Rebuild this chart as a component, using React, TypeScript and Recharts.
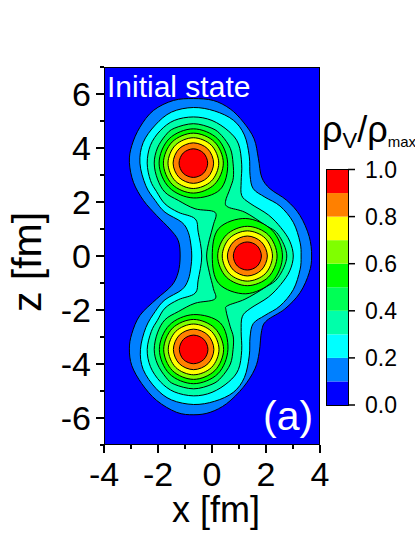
import React from 'react';
import { ScatterChart, Scatter, XAxis, YAxis, BarChart, Bar } from 'recharts';

type P = [number, number];

const bandColors = ['#0000ff', '#0080ff', '#00ffff', '#00ffaa', '#00ff55', '#00ff00', '#80ff00', '#ffff00', '#ff8000', '#ff0000'];
const bandSizes = [0.1, 0.1, 0.1, 0.1, 0.1, 0.1, 0.1, 0.1, 0.1, 0.1];
const xTicks = [-4, -3, -2, -1, 0, 1, 2, 3, 4];
const zTicks = [-7, -6, -5, -4, -3, -2, -1, 0, 1, 2, 3, 4, 5, 6, 7];
const barTicks = [0, 0.2, 0.4, 0.6, 0.8, 1];

const frame: P[] = [[-4, 7], [4, 7], [4, -7], [-4, -7]];

const level1: P[] = [[-.69, 5.83], [.05, 5.76], [.67, 5.45], [1.16, 4.96], [1.56, 4.34], [1.72, 3.6], [1.84, 2.92], [2.15, 2.49], [2.77, 2.06], [3.26, 1.5], [3.60, .72], [3.69, 0], [3.60, -.62], [3.26, -1.36], [2.70, -1.96], [2.03, -2.39], [1.84, -2.76], [1.75, -3.56], [1.59, -4.18], [1.16, -4.86], [.54, -5.47], [-.07, -5.79], [-.67, -5.88], [-1.31, -5.79], [-2.05, -5.35], [-2.6, -4.73], [-2.97, -4.06], [-3.06, -3.44], [-2.97, -2.88], [-2.67, -2.2], [-2.05, -1.59], [-1.49, -1.09], [-1.25, -.6], [-1.18, 0], [-1.25, .57], [-1.56, 1.0], [-2.05, 1.5], [-2.54, 2.06], [-2.91, 2.73], [-3.06, 3.47], [-2.97, 4.09], [-2.67, 4.77], [-2.17, 5.39], [-1.43, 5.76]];

const level2: P[] = [[-.69, 5.50], [.1, 5.37], [.79, 5.03], [1.2, 4.48], [1.38, 3.7], [1.41, 2.98], [1.53, 2.49], [1.96, 2.18], [2.52, 1.85], [3.01, 1.25], [3.26, .51], [3.30, 0], [3.26, -.51], [3.01, -1.25], [2.52, -1.85], [1.96, -2.2], [1.53, -2.5], [1.41, -3.0], [1.38, -3.7], [1.2, -4.5], [.79, -5.05], [.1, -5.38], [-.68, -5.50], [-1.5, -5.33], [-2.08, -4.9], [-2.55, -4.2], [-2.65, -3.46], [-2.45, -2.65], [-2.1, -2.05], [-1.74, -1.62], [-1.12, -1.25], [-.88, -.88], [-.78, -.4], [-.75, 0], [-.78, .4], [-.88, .88], [-1.12, 1.25], [-1.74, 1.62], [-2.1, 2.05], [-2.45, 2.6], [-2.67, 3.44], [-2.55, 4.2], [-2.1, 4.85], [-1.5, 5.33]];

const level3: P[] = [[-.69, 5.15], [.0, 5.02], [.62, 4.62], [.98, 4.15], [1.10, 3.4], [1.08, 2.75], [1.10, 2.24], [1.41, 1.95], [2.09, 1.52], [2.55, 1.05], [2.88, .55], [3.01, 0], [2.88, -.55], [2.55, -1.05], [2.09, -1.52], [1.41, -1.95], [1.12, -2.25], [1.08, -2.8], [1.10, -3.5], [.98, -4.2], [.62, -4.66], [.0, -5.05], [-.68, -5.18], [-1.4, -5.03], [-1.91, -4.66], [-2.28, -4.1], [-2.40, -3.46], [-2.25, -2.8], [-2.02, -2.38], [-1.74, -1.93], [-1.25, -1.62], [-.63, -1.38], [-.51, -.88], [-.38, 0], [-.51, .88], [-.63, 1.38], [-1.25, 1.62], [-1.74, 1.93], [-2.05, 2.38], [-2.28, 2.8], [-2.40, 3.44], [-2.28, 4.1], [-1.92, 4.64], [-1.4, 5.02]];

const level4: P[] = [[-.69, 4.90], [.0, 4.73], [.36, 4.46], [.68, 3.98], [.78, 3.44], [.79, 2.9], [.67, 2.5], [.50, 2.02], [.60, 1.81], [1.22, 1.62], [1.96, 1.15], [2.45, .80], [2.77, 0], [2.45, -.80], [1.96, -1.17], [1.22, -1.60], [.58, -1.84], [.52, -2.02], [.67, -2.6], [.79, -3.0], [.78, -3.46], [.68, -4.0], [.35, -4.49], [.0, -4.75], [-.68, -4.92], [-1.4, -4.75], [-1.71, -4.49], [-2.02, -4.0], [-2.14, -3.46], [-2.02, -2.85], [-1.74, -2.36], [-1.25, -2.06], [-.63, -1.75], [.10, -1.60], [.05, -1.2], [-.10, -.6], [-.20, 0], [-.10, .6], [.05, 1.15], [.11, 1.62], [-.63, 1.75], [-1.25, 2.06], [-1.74, 2.36], [-2.02, 2.85], [-2.14, 3.44], [-2.02, 4.0], [-1.72, 4.47], [-1.4, 4.73]];

const level5Top: P[] = [[.58, 3.44], [.21, 4.34], [-.69, 4.71], [-1.59, 4.34], [-1.96, 3.44], [-1.59, 2.54], [-.69, 2.15], [.3, 2.46]];
const level5Mid: P[] = [[2.61, 0], [2.23, .95], [1.25, 1.39], [.25, 1.02], [.01, 0], [.25, -1.02], [1.25, -1.40], [2.23, -.95]];
const level5Low: P[] = [[.59, -3.46], [.31, -2.48], [-.68, -2.17], [-1.58, -2.56], [-1.95, -3.46], [-1.58, -4.36], [-.68, -4.73], [.22, -4.36]];

const level6Top: P[] = [[.42, 3.44], [.095, 4.225], [-.69, 4.55], [-1.475, 4.225], [-1.80, 3.44], [-1.475, 2.655], [-.69, 2.33], [.095, 2.655]];
const level6Mid: P[] = [[2.41, 0], [2.09, .78], [1.31, 1.10], [.53, .78], [.21, 0], [.53, -.78], [1.31, -1.10], [2.09, -.78]];
const level6Low: P[] = [[.43, -3.46], [.105, -2.675], [-.68, -2.35], [-1.465, -2.675], [-1.79, -3.46], [-1.465, -4.245], [-.68, -4.57], [.105, -4.245]];

const level7Top: P[] = [[.25, 3.44], [-.025, 4.105], [-.69, 4.38], [-1.355, 4.105], [-1.63, 3.44], [-1.355, 2.775], [-.69, 2.50], [-.025, 2.775]];
const level7Mid: P[] = [[2.24, 0], [1.97, .66], [1.31, .93], [.65, .66], [.38, 0], [.65, -.66], [1.31, -.93], [1.97, -.66]];
const level7Low: P[] = [[.26, -3.46], [-.015, -2.795], [-.68, -2.52], [-1.345, -2.795], [-1.62, -3.46], [-1.345, -4.125], [-.68, -4.40], [-.015, -4.125]];

const level8Top: P[] = [[.06, 3.44], [-.16, 3.97], [-.69, 4.19], [-1.22, 3.97], [-1.44, 3.44], [-1.22, 2.91], [-.69, 2.69], [-.16, 2.91]];
const level8Mid: P[] = [[2.05, 0], [1.83, .52], [1.31, .74], [.79, .52], [.57, 0], [.79, -.52], [1.31, -.74], [1.83, -.52]];
const level8Low: P[] = [[.07, -3.46], [-.15, -2.93], [-.68, -2.71], [-1.21, -2.93], [-1.43, -3.46], [-1.21, -3.99], [-.68, -4.21], [-.15, -3.99]];

const level9Top: P[] = [[-.16, 3.44], [-.315, 3.815], [-.69, 3.97], [-1.065, 3.815], [-1.22, 3.44], [-1.065, 3.065], [-.69, 2.91], [-.315, 3.065]];
const level9Mid: P[] = [[1.83, 0], [1.68, .37], [1.31, .52], [.94, .37], [.79, 0], [.94, -.37], [1.31, -.52], [1.68, -.37]];
const level9Low: P[] = [[-.15, -3.46], [-.305, -3.085], [-.68, -2.93], [-1.055, -3.085], [-1.21, -3.46], [-1.055, -3.835], [-.68, -3.99], [-.305, -3.835]];

const contours: { points: P[]; band: number }[] = [
  { points: level1, band: 1 },
  { points: level2, band: 2 },
  { points: level3, band: 3 },
  { points: level4, band: 4 },
  { points: level5Top, band: 5 }, { points: level5Mid, band: 5 }, { points: level5Low, band: 5 },
  { points: level6Top, band: 6 }, { points: level6Mid, band: 6 }, { points: level6Low, band: 6 },
  { points: level7Top, band: 7 }, { points: level7Mid, band: 7 }, { points: level7Low, band: 7 },
  { points: level8Top, band: 8 }, { points: level8Mid, band: 8 }, { points: level8Low, band: 8 },
  { points: level9Top, band: 9 }, { points: level9Mid, band: 9 }, { points: level9Low, band: 9 },
];

const FONT = '"Liberation Sans", Arial, sans-serif';
const toRows = (pts: P[]) => pts.map(([x, z]) => ({ x, z }));

// Smooth closed outline through the scaled points.
function closedPath(pts: { x: number; y: number }[]) {
  const n = pts.length;
  let d = `M${pts[0].x},${pts[0].y}`;
  for (let i = 0; i < n; i++) {
    const p0 = pts[(i - 1 + n) % n];
    const p1 = pts[i];
    const p2 = pts[(i + 1) % n];
    const p3 = pts[(i + 2) % n];
    const c1x = p1.x + (p2.x - p0.x) / 6;
    const c1y = p1.y + (p2.y - p0.y) / 6;
    const c2x = p2.x - (p3.x - p1.x) / 6;
    const c2y = p2.y - (p3.y - p1.y) / 6;
    d += `C${c1x},${c1y} ${c2x},${c2y} ${p2.x},${p2.y}`;
  }
  return d + 'Z';
}

const XTick = (props: any) => {
  const { x, y, payload } = props;
  const major = Math.abs(payload.value) % 2 === 0;
  return (
    <g>
      <line x1={x} x2={x} y1={y} y2={y + (major ? 8 : 4)} stroke="#000" strokeWidth={2} />
      {major && (
        <text x={x} y={y + 41} textAnchor="middle" fontSize={34} fontFamily={FONT} fill="#000">
          {payload.value}
        </text>
      )}
    </g>
  );
};

const ZTick = (props: any) => {
  const { x, y, payload } = props;
  const major = Math.abs(payload.value) % 2 === 0;
  return (
    <g>
      <line x1={x} x2={x - (major ? 8 : 4)} y1={y} y2={y} stroke="#000" strokeWidth={2} />
      {major && (
        <text x={x - 13} y={y + 12} textAnchor="end" fontSize={34} fontFamily={FONT} fill="#000">
          {payload.value}
        </text>
      )}
    </g>
  );
};

const BarTick = (props: any) => {
  const { x, y, payload } = props;
  return (
    <g>
      <line x1={x} x2={x + 7} y1={y} y2={y} stroke="#000" strokeWidth={1.5} />
      <text x={x + 17} y={y + 8} fontSize={23} fontFamily={FONT} fill="#000">
        {payload.value.toFixed(1)}
      </text>
    </g>
  );
};

const barRow: Record<string, number | string> = { name: 'scale' };
bandSizes.forEach((v, i) => { barRow[`b${i}`] = v; });
const barRows = [barRow];

const noDot = () => <g />;

export default function App() {
  return (
    <div style={{ position: 'absolute', left: 0, top: 0, width: 415, height: 537, overflow: 'hidden', fontFamily: FONT }}>
      <div style={{ position: 'absolute', left: 0, top: 0 }}>
        <ScatterChart width={415} height={537} margin={{ top: 67, right: 95, bottom: 32, left: 54 }}>
          <XAxis
            type="number"
            dataKey="x"
            domain={[-4, 4]}
            ticks={xTicks}
            interval={0}
            height={60}
            tickLine={false}
            axisLine={false}
            tickSize={0}
            tickMargin={0}
            tick={<XTick />}
            allowDataOverflow
          />
          <YAxis
            type="number"
            dataKey="z"
            domain={[-7, 7]}
            ticks={zTicks}
            interval={0}
            width={50}
            tickLine={false}
            axisLine={false}
            tickSize={0}
            tickMargin={0}
            tick={<ZTick />}
            allowDataOverflow
          />
          <Scatter
            data={toRows(frame)}
            isAnimationActive={false}
            shape={noDot}
            line={(p: any) => <path d={`M${p.points.map((q: any) => `${q.x},${q.y}`).join('L')}Z`} fill="#0000ff" stroke="#000" strokeWidth={2} />}
          />
          {contours.map((c, i) => (
            <Scatter
              key={i}
              data={toRows(c.points)}
              isAnimationActive={false}
              shape={noDot}
              line={(p: any) => <path d={closedPath(p.points)} fill={bandColors[c.band]} stroke="#000" strokeWidth={1} />}
            />
          ))}
        </ScatterChart>
      </div>

      <div style={{ position: 'absolute', left: 320, top: 100 }}>
        <BarChart
          width={95}
          height={330}
          data={barRows}
          barCategoryGap={0}
          margin={{ top: 69.5, right: 0, bottom: 25, left: 7 }}
        >
          <XAxis dataKey="name" hide />
          <YAxis
            orientation="right"
            type="number"
            domain={[0, 1]}
            ticks={barTicks}
            interval={0}
            width={67}
            tickLine={false}
            axisLine={false}
            tickSize={0}
            tickMargin={0}
            tick={<BarTick />}
          />
          {bandColors.map((col, i) => (
            <Bar key={i} dataKey={`b${i}`} stackId="scale" fill={col} isAnimationActive={false} />
          ))}
        </BarChart>
      </div>
      <div style={{ position: 'absolute', left: 326, top: 168.5, width: 23, height: 237.5, boxSizing: 'border-box', border: '1.5px solid #000' }} />

      <div style={{ position: 'absolute', left: 107, top: 72, color: '#fff', fontSize: 30, lineHeight: '30px', whiteSpace: 'nowrap' }}>Initial state</div>
      <div style={{ position: 'absolute', left: 263, top: 391.5, color: '#fff', fontSize: 41, lineHeight: '48px', whiteSpace: 'nowrap' }}>(a)</div>
      <div style={{ position: 'absolute', left: 172, top: 495, color: '#000', fontSize: 36, lineHeight: '30px', whiteSpace: 'nowrap' }}>x [fm]</div>
      <div style={{ position: 'absolute', left: 27, top: 262, color: '#000', fontSize: 41, lineHeight: '46px', whiteSpace: 'nowrap', transform: 'translate(-50%,-50%) rotate(-90deg)' }}>z [fm]</div>
      <div style={{ position: 'absolute', left: 322, top: 110, color: '#000', fontSize: 36, lineHeight: '40px', whiteSpace: 'nowrap' }}>
        ρ<span style={{ fontSize: 22, position: 'relative', top: 6 }}>V</span>/ρ<span style={{ fontSize: 15, position: 'relative', top: 5 }}>max</span>
      </div>
    </div>
  );
}
